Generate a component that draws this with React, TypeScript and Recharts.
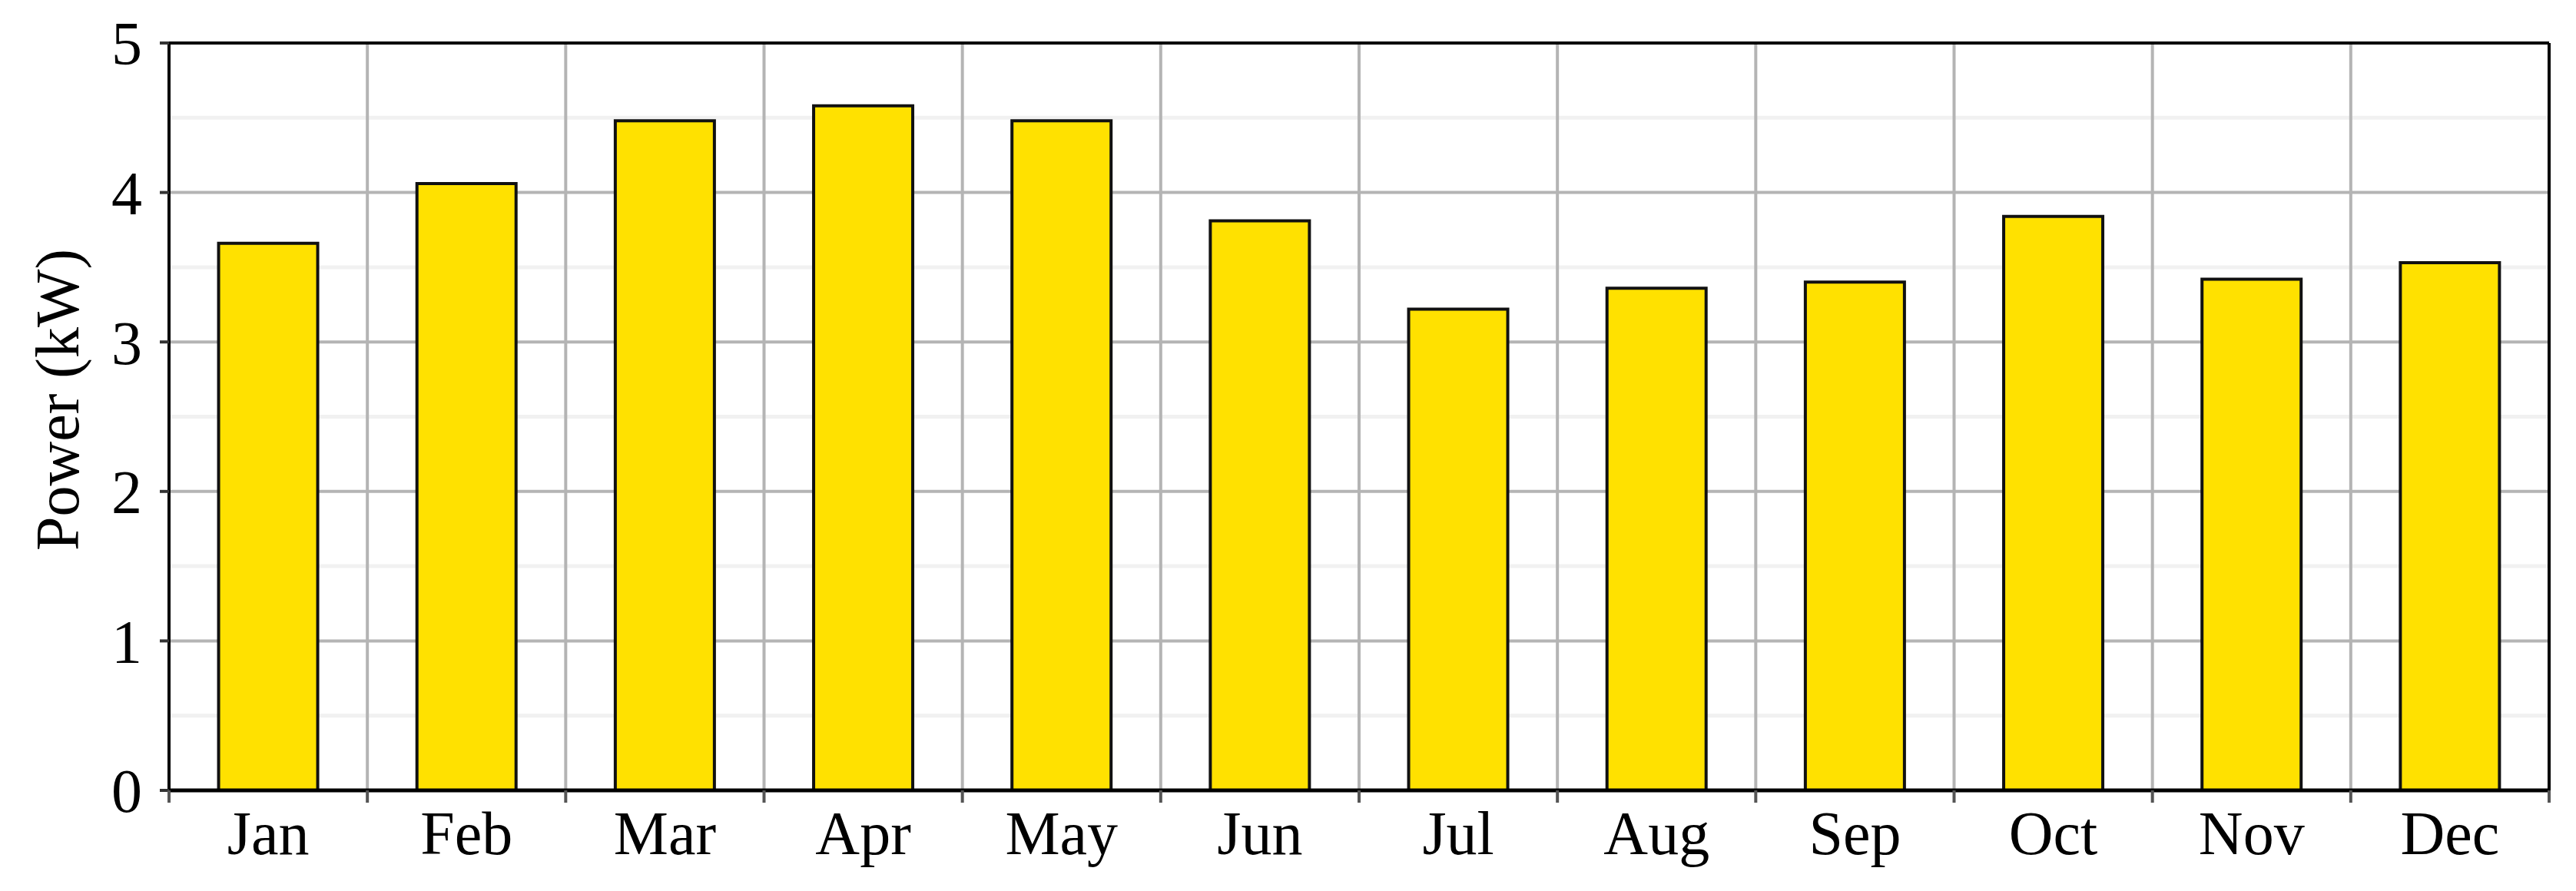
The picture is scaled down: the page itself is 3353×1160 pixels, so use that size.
import { BarChart, Bar, XAxis, YAxis, CartesianGrid, Label } from 'recharts';

const months = ['Jan', 'Feb', 'Mar', 'Apr', 'May', 'Jun', 'Jul', 'Aug', 'Sep', 'Oct', 'Nov', 'Dec'];
const power = [3.66, 4.06, 4.48, 4.58, 4.48, 3.81, 3.22, 3.36, 3.40, 3.84, 3.42, 3.53];
const yTicks = [0, 1, 2, 3, 4, 5];
const yMinorTicks = [0.5, 1.5, 2.5, 3.5, 4.5];

const data = months.map((m, i) => ({ month: m, power: power[i] }));

const FONT = '"Liberation Serif", "Times New Roman", serif';
const W = 3337;
const H = 1144;
const MARGIN = { top: 47, right: 26, left: 0, bottom: 0 };
const Y_AXIS_W = 212;
const BAND = (W - MARGIN.right - 1 - Y_AXIS_W) / months.length;

// Month label plus the tick marks, which sit on the category boundaries
// rather than the centres.
function MonthTick(props: any) {
  const { x, y, payload, index } = props;
  const half = typeof payload?.offset === 'number' && payload.offset > 0 ? payload.offset : BAND / 2;
  return (
    <g>
      <line x1={x - half} x2={x - half} y1={y} y2={y + 16} stroke="#555" strokeWidth={4} />
      {index === months.length - 1 && (
        <line x1={x + half} x2={x + half} y1={y} y2={y + 16} stroke="#555" strokeWidth={4} />
      )}
      <text x={x} y={y + 26} dy="0.71em" textAnchor="middle" fontFamily={FONT} fontSize={80} fill="#000">
        {payload.value}
      </text>
    </g>
  );
}

function YTitle(props: any) {
  const vb = props.viewBox || { x: 0, y: 0, width: 0, height: 0 };
  const cx = vb.x + 67;
  const cy = vb.y + vb.height / 2 - 22;
  return (
    <text
      x={cx} y={cy} transform={`rotate(-90 ${cx} ${cy})`}
      textAnchor="middle" dominantBaseline="central"
      fontFamily={FONT} fontSize={80} fill="#000"
    >
      Power (kW)
    </text>
  );
}

export default function App() {
  return (
    <div style={{ width: W, height: H, fontFamily: FONT }}>
      <BarChart width={W} height={H} data={data} margin={MARGIN} barCategoryGap="25%">
        {/* light half-unit lines */}
        <CartesianGrid
          vertical={false}
          stroke="#f1f1f1"
          strokeWidth={5}
          horizontalCoordinatesGenerator={({ yAxis, offset }: any) =>
            yMinorTicks.map(v =>
              yAxis && typeof yAxis.scale === 'function'
                ? yAxis.scale(v)
                : offset.top + offset.height * (1 - v / yTicks[yTicks.length - 1]))
          }
        />
        {/* integer lines + category boundaries */}
        <CartesianGrid
          stroke="#b4b4b4"
          strokeWidth={4}
          verticalCoordinatesGenerator={({ offset }: any) =>
            Array.from({ length: months.length + 1 }, (_, i) => offset.left + (i * offset.width) / months.length)
          }
        />
        <XAxis
          dataKey="month"
          interval={0}
          height={123}
          tickLine={false}
          tickSize={0}
          tickMargin={0}
          axisLine={{ stroke: '#000', strokeWidth: 5 }}
          tick={<MonthTick />}
        />
        {/* top and right frame */}
        <XAxis
          xAxisId="top"
          dataKey="month"
          orientation="top"
          height={1}
          tick={false}
          tickLine={false}
          axisLine={{ stroke: '#000', strokeWidth: 4 }}
        />
        <YAxis
          width={Y_AXIS_W}
          domain={[0, 5]}
          ticks={yTicks}
          interval={0}
          tickSize={12}
          tickMargin={23}
          tickLine={{ stroke: '#333', strokeWidth: 4 }}
          axisLine={{ stroke: '#000', strokeWidth: 4 }}
          tick={{ fill: '#000', fontSize: 80, fontFamily: FONT }}
        >
          <Label content={<YTitle />} />
        </YAxis>
        <YAxis
          yAxisId="right"
          orientation="right"
          width={1}
          domain={[0, 5]}
          tick={false}
          tickLine={false}
          axisLine={{ stroke: '#000', strokeWidth: 4 }}
        />
        <Bar dataKey="power" fill="#ffe100" stroke="#111" strokeWidth={4} isAnimationActive={false} />
      </BarChart>
    </div>
  );
}
